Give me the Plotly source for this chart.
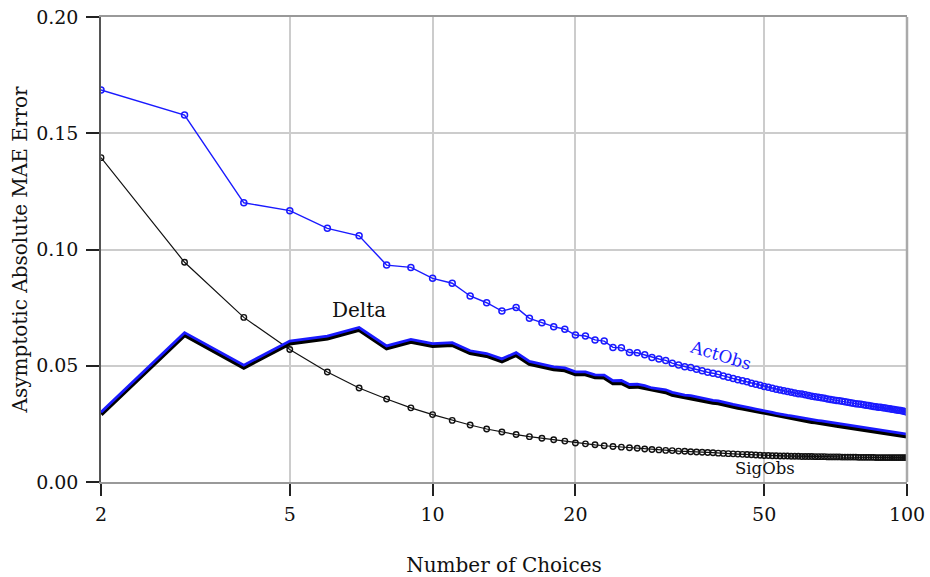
import plotly.graph_objects as go

# ---------------- data ----------------
choices = list(range(2, 101))

act_obs = [
    0.1686, 0.1578, 0.1201, 0.1167, 0.1091, 0.1059, 0.0933, 0.0923, 0.0876,   # 2-10
    0.0855, 0.0800, 0.0771, 0.0735, 0.0751, 0.0704, 0.0685, 0.0668, 0.0657, 0.0632,  # 11-20
    0.0628, 0.0611, 0.0606, 0.0579, 0.0577, 0.0557, 0.0556, 0.0547, 0.0535, 0.0529,  # 21-30
    0.0523, 0.0511, 0.0503, 0.0496, 0.0492, 0.0485, 0.0479, 0.0472, 0.0468, 0.0463,  # 31-40
    0.0456, 0.0451, 0.0445, 0.0440, 0.0436, 0.0431, 0.0425, 0.0420, 0.0416, 0.0411,  # 41-50
    0.0407, 0.0403, 0.0399, 0.0396, 0.0393, 0.0389, 0.0386, 0.0383, 0.0380, 0.0378,  # 51-60
    0.0375, 0.0372, 0.0369, 0.0367, 0.0364, 0.0362, 0.0360, 0.0357, 0.0355, 0.0353,  # 61-70
    0.0351, 0.0349, 0.0347, 0.0345, 0.0343, 0.0341, 0.0339, 0.0337, 0.0336, 0.0334,  # 71-80
    0.0332, 0.0330, 0.0329, 0.0327, 0.0325, 0.0324, 0.0322, 0.0321, 0.0319, 0.0318,  # 81-90
    0.0316, 0.0315, 0.0313, 0.0312, 0.0310, 0.0309, 0.0307, 0.0305, 0.0303, 0.0301,  # 91-100
]

sig_obs = [
    0.1395, 0.0945, 0.0708, 0.0570, 0.0473, 0.0404, 0.0357, 0.0319, 0.0290,   # 2-10
    0.0265, 0.0245, 0.0228, 0.0215, 0.0204, 0.0195, 0.0188, 0.0182, 0.0176, 0.0168,  # 11-20
    0.0164, 0.0160, 0.0156, 0.0153, 0.0150, 0.0147, 0.0145, 0.0142, 0.0140, 0.0138,  # 21-30
    0.0136, 0.0135, 0.0133, 0.0132, 0.0130, 0.0129, 0.0128, 0.0127, 0.0126, 0.0124,  # 31-40
    0.0123, 0.0122, 0.0121, 0.0120, 0.0119, 0.0118, 0.0117, 0.0116, 0.0115, 0.0114,  # 41-50
    0.0114, 0.0113, 0.0113, 0.0112, 0.0112, 0.0112, 0.0111, 0.0111, 0.0111, 0.0110,  # 51-60
    0.0110, 0.0110, 0.0110, 0.0109, 0.0109, 0.0109, 0.0109, 0.0108, 0.0108, 0.0108,  # 61-70
    0.0108, 0.0108, 0.0107, 0.0107, 0.0107, 0.0107, 0.0107, 0.0107, 0.0106, 0.0106,  # 71-80
    0.0106, 0.0106, 0.0106, 0.0106, 0.0106, 0.0105, 0.0105, 0.0105, 0.0105, 0.0105,  # 81-90
    0.0105, 0.0105, 0.0105, 0.0105, 0.0105, 0.0105, 0.0105, 0.0105, 0.0105, 0.0105,  # 91-100
]

# Delta = ActObs - SigObs
delta = [a - s for a, s in zip(act_obs, sig_obs)]

x_tickvals = [2, 5, 10, 20, 50, 100]
x_ticktext = ["2", "5", "10", "20", "50", "100"]
y_tickvals = [0.00, 0.05, 0.10, 0.15, 0.20]
y_ticktext = ["0.00", "0.05", "0.10", "0.15", "0.20"]

# ---------------- style ----------------
FONT = "DejaVu Serif"
BLUE = "#1a1aff"
Y_RANGE = [0.0, 0.20]
PLOT_H = 465.0
HIGHLIGHT_PX = 2.2   # blue Delta line drawn slightly above its black outline
shift = HIGHLIGHT_PX * (Y_RANGE[1] - Y_RANGE[0]) / PLOT_H

fig = go.Figure()

fig.add_trace(go.Scatter(
    x=choices, y=sig_obs, mode="lines+markers", name="SigObs",
    line=dict(color="#111111", width=1.2),
    marker=dict(symbol="circle-open", size=5.5, color="#111111", line=dict(width=1.4)),
    yaxis="y",
))
fig.add_trace(go.Scatter(
    x=choices, y=act_obs, mode="lines+markers", name="ActObs",
    line=dict(color=BLUE, width=1.4),
    marker=dict(symbol="circle-open", size=6, color=BLUE, line=dict(width=1.5)),
    yaxis="y",
))
# Delta: black outline + blue line slightly above
fig.add_trace(go.Scatter(
    x=choices, y=delta, mode="lines", name="Delta outline",
    line=dict(color="#000000", width=4.4),
    yaxis="y2",
))
fig.add_trace(go.Scatter(
    x=choices, y=delta, mode="lines", name="Delta",
    line=dict(color=BLUE, width=2.8),
    yaxis="y3",
))

fig.update_layout(
    width=930, height=577,
    margin=dict(l=101, r=23, t=17, b=95),
    paper_bgcolor="white", plot_bgcolor="white",
    showlegend=False,
    font=dict(family=FONT, size=19, color="#111111"),
    xaxis=dict(
        type="log", range=[0.30103, 2.0],
        tickvals=x_tickvals, ticktext=x_ticktext,
        ticks="outside", ticklen=12, tickwidth=1.5, tickcolor="#222222",
        ticklabelstandoff=2,
        showgrid=True, gridcolor="#cccccc", gridwidth=1.5,
        showline=True, linecolor="#999999", linewidth=1.5, mirror=True,
        zeroline=False, automargin=False,
        tickfont=dict(family=FONT, size=19),
        title=dict(text="Number of Choices", font=dict(family=FONT, size=20), standoff=34),
    ),
    yaxis=dict(
        range=Y_RANGE,
        tickvals=y_tickvals, ticktext=y_ticktext,
        ticks="outside", ticklen=13, tickwidth=1.5, tickcolor="#222222",
        ticklabelstandoff=4,
        showgrid=True, gridcolor="#cccccc", gridwidth=1.5,
        showline=True, linecolor="#555555", linewidth=1.5,
        zeroline=False, automargin=False,
        tickfont=dict(family=FONT, size=19),
        title=dict(text="Asymptotic Absolute MAE Error", font=dict(family=FONT, size=20), standoff=3),
    ),
    yaxis2=dict(range=Y_RANGE, overlaying="y",
                visible=False, showgrid=False, zeroline=False),
    yaxis3=dict(range=[Y_RANGE[0] - shift, Y_RANGE[1] - shift], overlaying="y",
                visible=False, showgrid=False, zeroline=False),
    shapes=[dict(type="line", xref="paper", yref="paper", x0=1, x1=1, y0=0, y1=1,
                 line=dict(color="#aaaaaa", width=2.5))],
    annotations=[
        dict(x=0.845, y=0.074, xref="x", yref="y", text="Delta", showarrow=False,
             font=dict(family=FONT, size=20, color="#111111")),
        dict(x=1.606, y=0.0545, xref="x", yref="y", text="ActObs", showarrow=False,
             textangle=17, font=dict(family=FONT, size=17, color=BLUE)),
        dict(x=1.7007, y=0.0058, xref="x", yref="y", text="SigObs", showarrow=False,
             font=dict(family=FONT, size=16.5, color="#111111")),
    ],
)

fig.write_html("out.html")
